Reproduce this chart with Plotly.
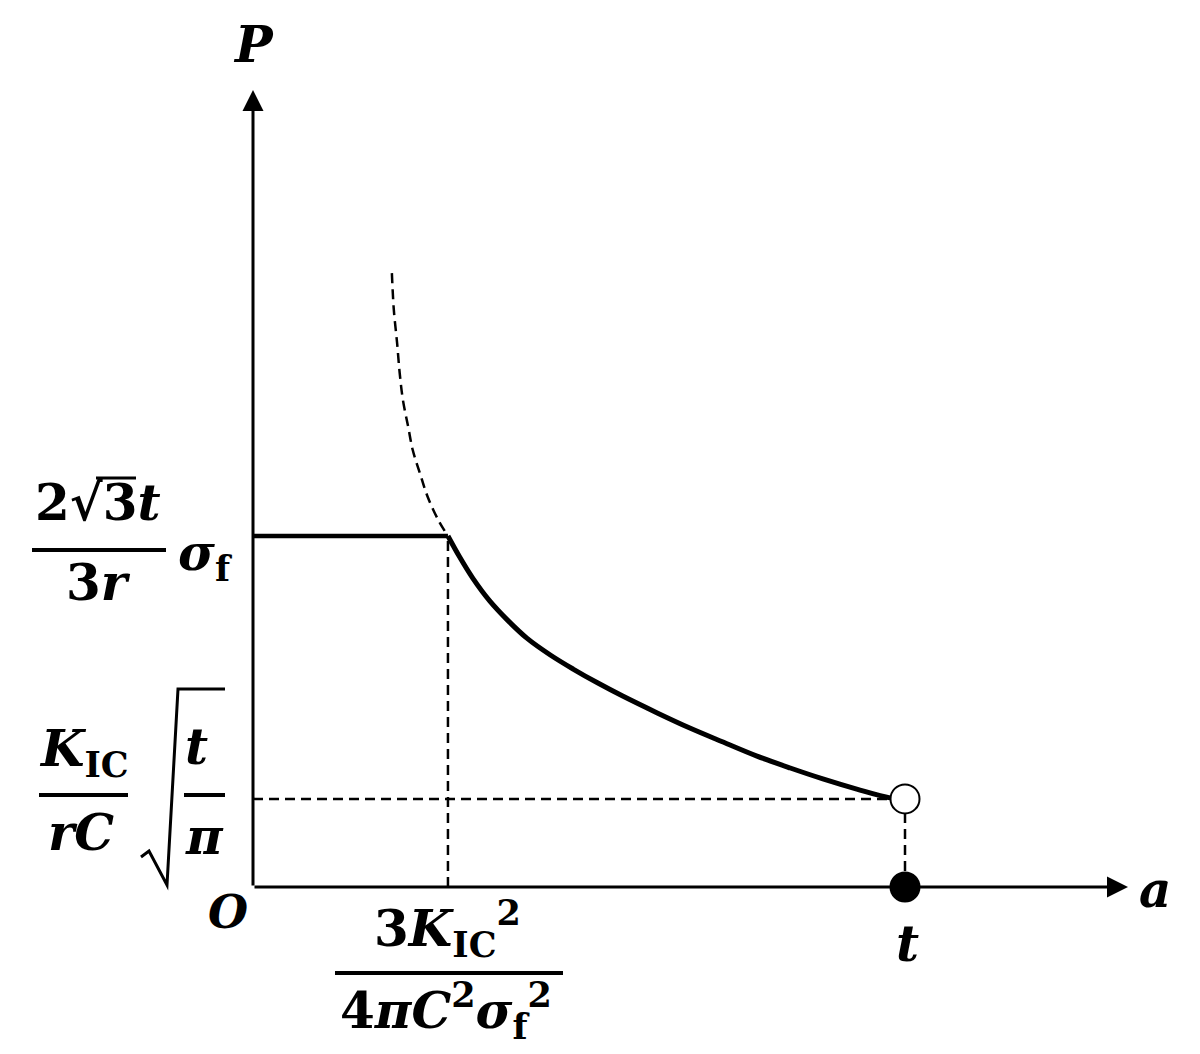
import plotly.graph_objects as go

W, H = 1200, 1054
OFF = 8  # page margin around the plot div
FONT = "DejaVu Serif"

# values (a in units of t, P in units of the plateau load)
T = 1.0
A0 = 0.299
P_SIGMA = 1.0
P_T = 0.251
A_AXIS_END = 1.342
P_AXIS_END = 2.271

a_curve = [0.299, 0.317, 0.337, 0.363, 0.390, 0.420, 0.456, 0.491, 0.529, 0.567,
           0.620, 0.670, 0.721, 0.773, 0.824, 0.874, 0.926, 0.977, 1.000]
p_curve = [1.000, 0.940, 0.880, 0.815, 0.761, 0.709, 0.661, 0.621, 0.581, 0.544,
           0.496, 0.453, 0.413, 0.373, 0.339, 0.308, 0.279, 0.254, 0.251]

a_dash_curve = [0.213, 0.216, 0.221, 0.225, 0.230, 0.238, 0.245, 0.256, 0.268, 0.284, 0.299]
p_dash_curve = [1.749, 1.644, 1.550, 1.464, 1.387, 1.311, 1.245, 1.179, 1.111, 1.046, 1.000]

DASH = "10px,6px"

fig = go.Figure()

# plateau
fig.add_trace(go.Scatter(x=[0, A0], y=[P_SIGMA, P_SIGMA], mode='lines',
                         line=dict(color='black', width=4.5)))
# decreasing branch
fig.add_trace(go.Scatter(x=a_curve, y=p_curve, mode='lines',
                         line=dict(color='black', width=5, shape='spline', smoothing=1.0)))
# dashed continuation upward
fig.add_trace(go.Scatter(x=a_dash_curve, y=p_dash_curve, mode='lines',
                         line=dict(color='black', width=2.5, dash=DASH, shape='spline', smoothing=1.0)))
# dashed guides
fig.add_trace(go.Scatter(x=[A0, A0], y=[0, P_SIGMA], mode='lines',
                         line=dict(color='black', width=2.5, dash=DASH)))
fig.add_trace(go.Scatter(x=[0, T], y=[P_T, P_T], mode='lines',
                         line=dict(color='black', width=2.5, dash=DASH)))
fig.add_trace(go.Scatter(x=[T, T], y=[0, P_T], mode='lines',
                         line=dict(color='black', width=2.5, dash=DASH)))

# axes with arrow heads
for tip_x, tip_y in [(A_AXIS_END, 0), (0, P_AXIS_END)]:
    fig.add_annotation(x=tip_x, y=tip_y, ax=0, ay=0, xref='x', yref='y', axref='x', ayref='y',
                       text='', showarrow=True, arrowhead=2, arrowsize=1.4, arrowwidth=3,
                       arrowcolor='black', standoff=0)

# end points
fig.add_trace(go.Scatter(x=[T], y=[P_T], mode='markers',
                         marker=dict(size=29, color='white', line=dict(color='black', width=2))))
fig.add_trace(go.Scatter(x=[T], y=[0], mode='markers',
                         marker=dict(size=31, color='black')))


def px(x):
    return (x - OFF) / W


def py(y):
    return 1 - (y - OFF) / H


def label(text, x, y, size=50, anchor='center'):
    fig.add_annotation(x=px(x), y=py(y), xref='paper', yref='paper', text=text,
                       showarrow=False, xanchor=anchor, yanchor='middle',
                       font=dict(family=FONT, size=size, color='black'))


def bar(x0, x1, y, width=4):
    fig.add_shape(type='line', xref='paper', yref='paper',
                  x0=px(x0), x1=px(x1), y0=py(y), y1=py(y),
                  line=dict(color='black', width=width))


label('<b><i>P</i></b>', 253, 44)
label('<b><i>a</i></b>', 1155, 889)
label('<b><i>O</i></b>', 228, 912, size=46)
label('<b><i>t</i></b>', 907, 943)

# 2√3 t / 3r  σf
label('<b>2√3<i>t</i></b>', 98, 502)
bar(96, 136, 478, width=3)
bar(32, 166, 550)
label('<b>3<i>r</i></b>', 98, 582)
label('<b><i>σ</i><sub>f</sub></b>', 176, 556, anchor='left')

# K_IC / rC  sqrt(t/π)
label('<b><i>K</i><sub>IC</sub></b>', 84, 752)
bar(39, 128, 795)
label('<b><i>rC</i></b>', 81, 832)
fig.add_shape(type='path', xref='paper', yref='paper',
              path='M {} {} L {} {} L {} {} L {} {} L {} {}'.format(
                  px(141), py(857), px(149), py(851), px(167), py(885),
                  px(178), py(689), px(225), py(689)),
              line=dict(color='black', width=3))
label('<b><i>t</i></b>', 196, 746)
bar(184, 225, 795)
label('<b><i>π</i></b>', 204, 836)

# 3K_IC^2 / 4πC^2σf^2
label('<b>3<i>K</i><sub>IC</sub><sup>2</sup></b>', 447, 928)
bar(335, 563, 973)
label('<b>4<i>πC</i><sup>2</sup><i>σ</i><sub>f</sub><sup>2</sup></b>', 446, 1010)

fig.update_layout(
    width=W, height=H,
    margin=dict(l=0, r=0, t=0, b=0),
    paper_bgcolor='white', plot_bgcolor='white',
    showlegend=False,
    xaxis=dict(range=[-(253 - OFF) / 652, (W + OFF - 253) / 652], visible=False, fixedrange=True),
    yaxis=dict(range=[-(H + OFF - 887) / 351, (887 - OFF) / 351], visible=False, fixedrange=True),
)

fig.write_html("out.html")
